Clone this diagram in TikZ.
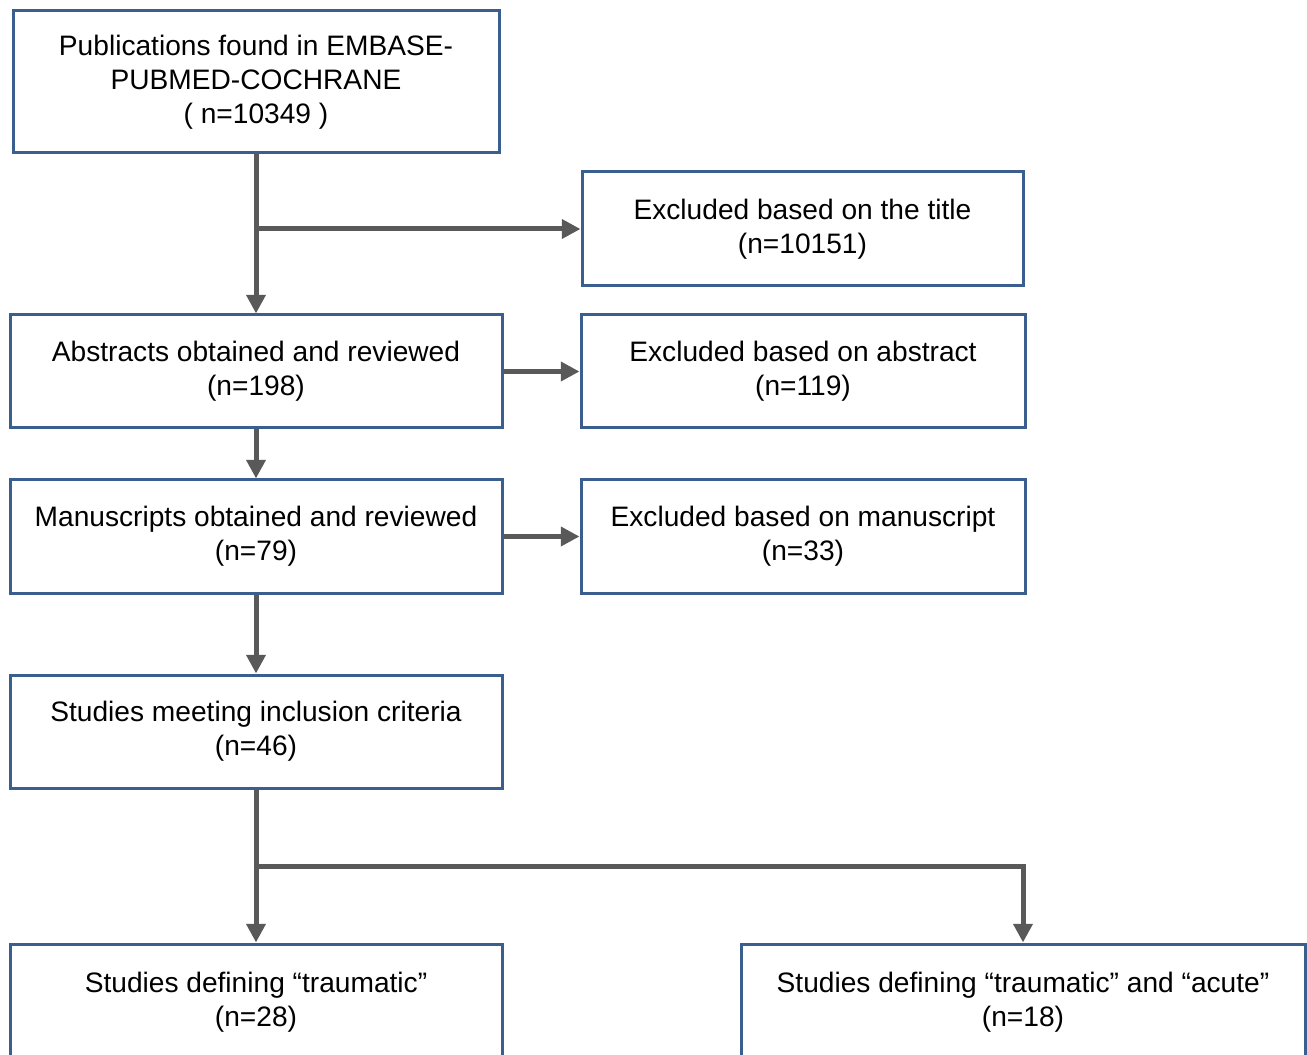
\documentclass[tikz,border=0pt]{standalone}
\usepackage{fontspec}
\setmainfont{Liberation Sans}
\usetikzlibrary{arrows.meta,calc}
\definecolor{boxblue}{HTML}{3A5F8F}
\definecolor{arrgray}{HTML}{595959}
\begin{document}
\begin{tikzpicture}[x=0.75pt,y=-0.75pt,
  bx/.style 2 args={draw=boxblue, line width=2.25pt, align=center, inner sep=0pt,
    minimum width=#1*0.75pt, minimum height=#2*0.75pt,
    font=\fontsize{21.1pt}{25.5pt}\selectfont},
  arr/.style={draw=arrgray, line width=3.75pt, line join=miter,
    -{Triangle[length=14pt,width=14pt]}}]
\useasboundingbox (0,0) rectangle (1307,1055);
\clip (0,0) rectangle (1307,1055);
\node[bx={486}{142}] (pub) at (256,82) {Publications found in EMBASE-\\PUBMED-COCHRANE\\( n=10349 )};
\node[bx={441}{114}] (extitle) at (802.5,229) {Excluded based on the title\\(n=10151)};
\node[bx={492}{113}] (abs) at (256,371.5) {Abstracts obtained and reviewed\\(n=198)};
\node[bx={444}{113}] (exabs) at (803,371.5) {Excluded based on abstract\\(n=119)};
\node[bx={492}{113}] (man) at (256,536.5) {Manuscripts obtained and reviewed\\(n=79)};
\node[bx={444}{113}] (exman) at (803,536.5) {Excluded based on manuscript\\(n=33)};
\node[bx={492}{113}] (stud) at (256,731.5) {Studies meeting inclusion criteria\\(n=46)};
\node[bx={492}{116}] (bl) at (256,1002) {Studies defining “traumatic”\\(n=28)};
\node[bx={564}{116}] (br) at (1023,1002) {Studies defining “traumatic” and “acute”\\(n=18)};
\coordinate (j1) at (pub.south |- extitle.west);
\coordinate (j2) at ($(stud.south)!0.5!(bl.north)$);
\draw[arr] (pub.south) -- (abs.north);
\draw[arr] (j1) -- (extitle.west);
\draw[arr] (abs.east) -- (exabs.west);
\draw[arr] (abs.south) -- (man.north);
\draw[arr] (man.east) -- (exman.west);
\draw[arr] (man.south) -- (stud.north);
\draw[arr] (stud.south) -- (bl.north);
\draw[arr] (j2) -| (br.north);
\end{tikzpicture}
\end{document}
